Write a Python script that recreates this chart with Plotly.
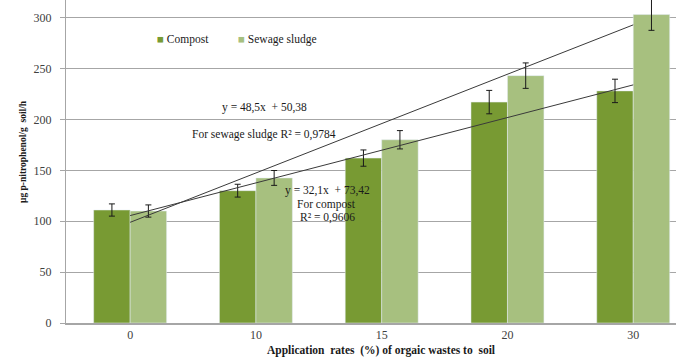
import plotly.graph_objects as go

categories = ["0", "10", "15", "20", "30"]
compost = [111, 130, 162, 217, 228]
sewage = [110, 142.5, 180, 243, 303]
compost_err = [6, 6.3, 8, 11.5, 11.5]
sewage_err = [6, 7.3, 9, 12.5, 15.5]
y_ticks = [0, 50, 100, 150, 200, 250, 300]

trend_compost = [32.1, 73.42]   # slope, intercept (x = 1..n)
trend_sewage = [48.5, 50.38]

FONT = "Liberation Serif"
C_COMPOST = "#789a33"
C_SEWAGE = "#a7c07f"

fig = go.Figure()
fig.add_trace(go.Bar(
    x=categories, y=compost, name="Compost", marker_color=C_COMPOST,
    error_y=dict(type="data", array=compost_err, color="#1a1a1a", thickness=1, width=3),
    showlegend=False))
fig.add_trace(go.Bar(
    x=categories, y=sewage, name="Sewage sludge", marker_color=C_SEWAGE,
    error_y=dict(type="data", array=sewage_err, color="#1a1a1a", thickness=1, width=3),
    showlegend=False))

n = len(categories)
fig.add_trace(go.Scatter(
    x=categories, y=[trend_compost[0] * (i + 1) + trend_compost[1] for i in range(n)],
    mode="lines", line=dict(color="#3a3a3a", width=1), showlegend=False, hoverinfo="skip"))
fig.add_trace(go.Scatter(
    x=categories, y=[trend_sewage[0] * (i + 1) + trend_sewage[1] for i in range(n)],
    mode="lines", line=dict(color="#3a3a3a", width=1), showlegend=False, hoverinfo="skip"))

W, H = 676, 361
L, T, B = 66, 0, 38
PW, PH = W - L, H - T - B

def px(x):
    return (x - L) / PW

def py(y):
    return (H - B - y) / PH

ann_font = dict(family=FONT, size=11.5, color="#1a1a1a")
annotations = [
    dict(text="y = 48,5x  + 50,38", x=px(220), y=py(107), xanchor="left"),
    dict(text="For sewage sludge R² = 0,9784", x=px(190), y=py(134), xanchor="left"),
    dict(text="y = 32,1x  + 73,42", x=px(283), y=py(190), xanchor="left"),
    dict(text="For compost", x=px(295), y=py(204), xanchor="left"),
    dict(text="R² = 0,9606", x=px(298), y=py(217), xanchor="left"),
    dict(text=f"<span style='color:{C_COMPOST}'>■</span> Compost", x=px(155), y=py(40), xanchor="left"),
    dict(text=f"<span style='color:{C_SEWAGE}'>■</span> Sewage sludge", x=px(236), y=py(40), xanchor="left"),
]
for a in annotations:
    a.update(xref="paper", yref="paper", yanchor="middle", showarrow=False, font=ann_font)

annotations.append(dict(text="<b>μg p-nitrophenol/g  soil/h</b>", xref="paper", yref="paper",
                        x=px(23), y=py(152), textangle=-90, showarrow=False,
                        xanchor="center", yanchor="middle",
                        font=dict(family=FONT, size=9.5, color="#1a1a1a")))
annotations.append(dict(text="<b>Application  rates  (%) of orgaic wastes to  soil</b>", xref="paper", yref="paper",
                        x=px(381), y=py(350), showarrow=False,
                        xanchor="center", yanchor="middle",
                        font=dict(family=FONT, size=11.5, color="#1a1a1a")))

fig.update_layout(
    width=W, height=H,
    margin=dict(l=L, r=0, t=T, b=B, pad=0),
    paper_bgcolor="white", plot_bgcolor="white",
    barmode="group", bargap=0.42, bargroupgap=0,
    font=dict(family=FONT, size=12, color="#404040"),
    annotations=annotations,
    xaxis=dict(type="category", range=[-0.51, 4.34], showgrid=False,
               showline=True, linecolor="#a6a6a6", linewidth=2, ticks="",
               tickfont=dict(family=FONT, size=12, color="#404040"), fixedrange=True),
    yaxis=dict(range=[0, 317.3], tickvals=y_ticks, showgrid=True, gridcolor="#a6a6a6", gridwidth=1,
               showline=True, linecolor="#a6a6a6", linewidth=1, ticks="outside", ticklen=5,
               tickcolor="#a6a6a6", zeroline=False, ticklabelstandoff=6,
               tickfont=dict(family=FONT, size=12, color="#404040"), fixedrange=True),
)

fig.write_html("out.html", config={"displayModeBar": False},
               post_script="document.body.style.margin='0';")
